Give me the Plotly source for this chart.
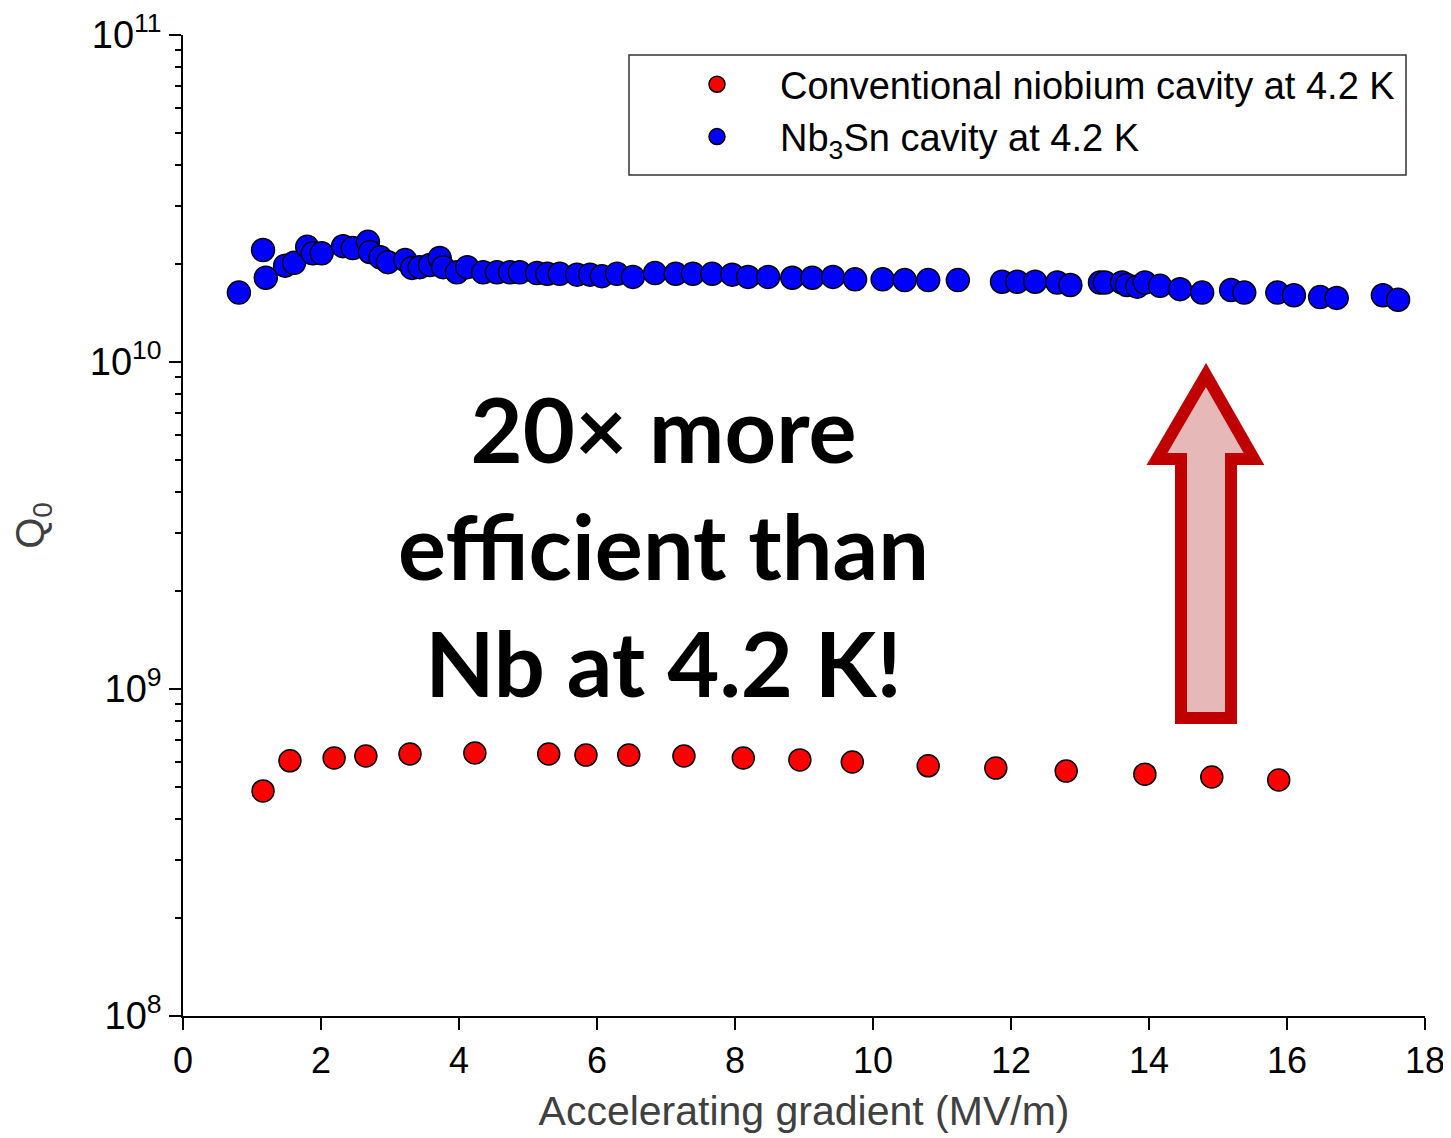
import plotly.graph_objects as go

# Conventional niobium cavity at 4.2 K
nb_x = [1.16, 1.55, 2.19, 2.65, 3.29, 4.23, 5.30, 5.84, 6.46, 7.26, 8.12, 8.94,
        9.70, 10.80, 11.78, 12.80, 13.94, 14.91, 15.88]
nb_q = [4.88e8, 6.03e8, 6.15e8, 6.24e8, 6.33e8, 6.37e8, 6.33e8, 6.28e8, 6.28e8,
        6.24e8, 6.15e8, 6.07e8, 5.98e8, 5.82e8, 5.73e8, 5.61e8, 5.49e8, 5.38e8, 5.27e8]

# Nb3Sn cavity at 4.2 K
sn_x = [0.81, 1.16, 1.20, 1.48, 1.61, 1.80, 1.88, 2.01, 2.32, 2.46, 2.68, 2.71,
        2.86, 2.97, 3.22, 3.32, 3.43, 3.58, 3.72, 3.77, 3.97, 4.12, 4.35, 4.55,
        4.74, 4.88, 5.13, 5.28, 5.46, 5.71, 5.90, 6.07, 6.29, 6.52, 6.84, 7.14,
        7.39, 7.67, 7.96, 8.19, 8.48, 8.83, 9.12, 9.42, 9.74, 10.14, 10.46, 10.80,
        11.23, 11.87, 12.09, 12.35, 12.67, 12.86, 13.29, 13.36, 13.61, 13.68, 13.83,
        13.94, 14.16, 14.45, 14.77, 15.19, 15.38, 15.86, 16.10, 16.48, 16.72, 17.39, 17.61]
sn_q = [1.63e10, 2.20e10, 1.81e10, 1.97e10, 2.01e10, 2.25e10, 2.15e10, 2.15e10,
        2.26e10, 2.23e10, 2.33e10, 2.17e10, 2.09e10, 2.02e10, 2.05e10, 1.94e10,
        1.95e10, 1.98e10, 2.08e10, 1.95e10, 1.88e10, 1.95e10, 1.88e10, 1.88e10,
        1.88e10, 1.88e10, 1.87e10, 1.86e10, 1.86e10, 1.85e10, 1.85e10, 1.83e10,
        1.86e10, 1.82e10, 1.87e10, 1.86e10, 1.86e10, 1.86e10, 1.85e10, 1.82e10,
        1.82e10, 1.81e10, 1.81e10, 1.82e10, 1.79e10, 1.79e10, 1.78e10, 1.78e10,
        1.78e10, 1.76e10, 1.76e10, 1.76e10, 1.75e10, 1.72e10, 1.75e10, 1.75e10,
        1.75e10, 1.72e10, 1.70e10, 1.75e10, 1.71e10, 1.67e10, 1.63e10, 1.66e10,
        1.63e10, 1.63e10, 1.60e10, 1.58e10, 1.57e10, 1.60e10, 1.55e10]

x_ticks = [0, 2, 4, 6, 8, 10, 12, 14, 16, 18]
y_major = [1e8, 1e9, 1e10, 1e11]
y_major_text = ["10<sup>8</sup>", "10<sup>9</sup>", "10<sup>10</sup>", "10<sup>11</sup>"]
y_minor = [m * 10 ** e for e in (8, 9, 10) for m in range(2, 10)]

# page body has an 8px default margin, so the figure is offset by 8px
OFF = 8
W, H = 1451 - OFF, 1138 - OFF
L, T = 183 - OFF, 35 - OFF
R = W - (1425 - OFF)
B = H - (1016 - OFF)
PW, PH = W - L - R, H - T - B


def px(x):
    # reference screen pixel x -> paper fraction
    return (x - OFF - L) / PW


def py(y):
    # reference screen pixel y -> paper fraction
    return (H - B - (y - OFF)) / PH


fig = go.Figure()
fig.add_trace(go.Scatter(
    x=nb_x, y=nb_q, mode="markers", name="Conventional niobium cavity at 4.2 K",
    marker=dict(size=22, color="#FF0000", line=dict(color="black", width=1.5))))
fig.add_trace(go.Scatter(
    x=sn_x, y=sn_q, mode="markers", name="Nb<sub>3</sub>Sn cavity at 4.2 K",
    marker=dict(size=23, color="#0000FF", line=dict(color="black", width=1.5))))

# Block arrow (annotation graphic) in paper coordinates
arrow_pts = [(1206, 375), (1254, 459), (1231, 459), (1231, 718), (1181, 718),
             (1181, 459), (1157, 459)]
path = "M " + " L ".join(f"{px(a):.5f},{py(b):.5f}" for a, b in arrow_pts) + " Z"
shapes = [
    dict(type="path", xref="paper", yref="paper", path=path,
         fillcolor="#E6B9B8", line=dict(color="#C00000", width=12)),
    dict(type="rect", xref="paper", yref="paper", x0=px(629), x1=px(1406),
         y0=py(175), y1=py(55), line=dict(color="#333333", width=1.5)),
]

fig.update_layout(
    width=W, height=H,
    margin=dict(l=L, r=R, t=T, b=B, autoexpand=False),
    paper_bgcolor="white", plot_bgcolor="white",
    font=dict(family="Liberation Sans, Arial, sans-serif", color="black", size=36),
    showlegend=True,
    legend=dict(x=px(654), y=py(53), xanchor="left", yanchor="top",
                bgcolor="rgba(0,0,0,0)", borderwidth=0, itemwidth=116,
                font=dict(family="Liberation Sans, Arial, sans-serif", size=38,
                          color="black"), tracegroupgap=0),
    shapes=shapes,
    annotations=[dict(
        x=px(663), y=py(545), xref="paper", yref="paper", showarrow=False,
        text="<b>20× more<br>efficient than<br>Nb at 4.2 K!</b>",
        font=dict(family="Lato, Carlito, sans-serif", size=90, color="black"),
        align="center", xanchor="center", yanchor="middle")],
)

fig.update_xaxes(
    range=[0, 18], tickvals=x_ticks, ticks="outside", ticklen=12, tickwidth=1.5,
    tickcolor="black", showline=True, linecolor="black", linewidth=1.5,
    showgrid=False, zeroline=False, automargin=False,
    tickfont=dict(size=36, color="black"),
    title=dict(text="Accelerating gradient (MV/m)", font=dict(size=41, color="#404040"),
               standoff=16))
fig.update_yaxes(
    type="log", range=[8, 11], tickvals=y_major, ticktext=y_major_text,
    ticks="outside", ticklen=12, tickwidth=1.5, tickcolor="black",
    showline=True, linecolor="black", linewidth=1.5, showgrid=False, zeroline=False,
    automargin=False, tickfont=dict(size=38, color="black"),
    minor=dict(tickvals=y_minor, ticks="outside", ticklen=6, tickwidth=1.5,
               tickcolor="black", showgrid=False),
    title=dict(text="Q<sub>0</sub>", font=dict(size=40, color="#404040"), standoff=42))

fig.write_html("out.html")
